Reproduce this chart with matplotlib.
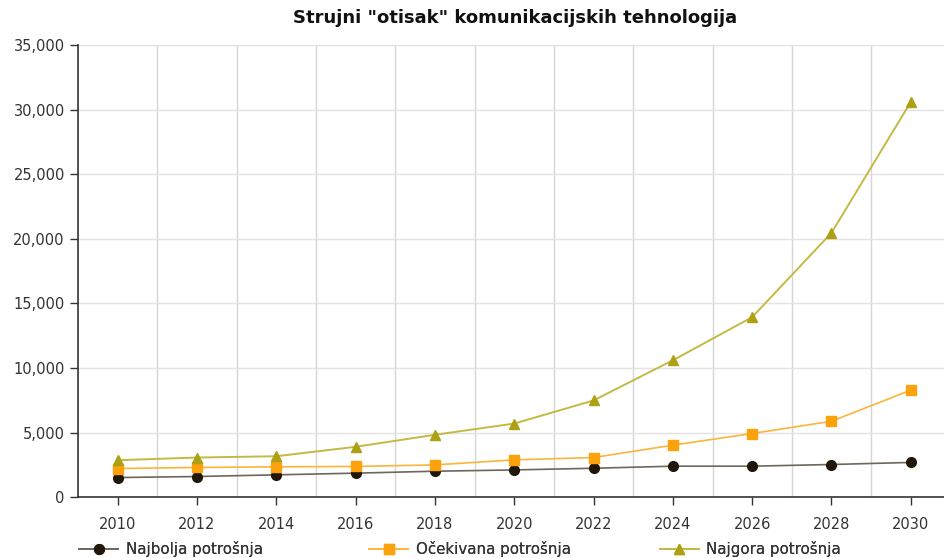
import matplotlib
matplotlib.use("Agg")
import matplotlib.pyplot as plt
from matplotlib.ticker import FuncFormatter

years = [2010, 2012, 2014, 2016, 2018, 2020, 2022, 2024, 2026, 2028, 2030]
najbolja = [1520, 1600, 1730, 1860, 2010, 2110, 2240, 2400, 2400, 2530, 2690]
ocekivana = [2220, 2300, 2350, 2380, 2500, 2890, 3070, 4030, 4930, 5880, 8290]
najgora = [2860, 3070, 3170, 3900, 4830, 5700, 7490, 10600, 13940, 20470, 30610]

series_labels = ["Najbolja potrošnja", "Očekivana potrošnja", "Najgora potrošnja"]
title = 'Strujni "otisak" komunikacijskih tehnologija'

plt.rcParams["font.family"] = ["DejaVu Sans"]

fig = plt.figure(figsize=(9.45, 5.58), dpi=100)
ax = fig.add_axes([0.0825, 0.109, 0.917, 0.81])

lines = []
lines += ax.plot(years, najbolja, color="#6e665a", linewidth=1.2, marker="o",
                 markersize=7, markerfacecolor="#20170a", markeredgecolor="#20170a",
                 label=series_labels[0], zorder=3)
lines += ax.plot(years, ocekivana, color="#fbb53a", linewidth=1.2, marker="s",
                 markersize=7, markerfacecolor="#fba20c", markeredgecolor="#fba20c",
                 label=series_labels[1], zorder=3)
lines += ax.plot(years, najgora, color="#c5b944", linewidth=1.4, marker="^",
                 markersize=7.5, markerfacecolor="#ada012", markeredgecolor="#ada012",
                 label=series_labels[2], zorder=3)

ax.set_xlim(2009, 2030.85)
ax.set_ylim(0, 35000)
ax.set_xticks(years)
ax.set_xticks(range(2011, 2031, 2), minor=True)
ax.set_yticks(range(0, 35001, 5000))
ax.yaxis.set_major_formatter(FuncFormatter(lambda v, _: f"{int(v):,}"))

ax.grid(axis="y", which="major", color="#e3e3e3", linewidth=1.0)
ax.grid(axis="x", which="minor", color="#d6d6d6", linewidth=1.0)
ax.grid(axis="x", which="major", visible=False)
ax.set_axisbelow(True)

for side in ["top", "right"]:
    ax.spines[side].set_visible(False)
for side in ["left", "bottom"]:
    ax.spines[side].set_color("#333333")
    ax.spines[side].set_linewidth(1.2)

ax.tick_params(axis="both", which="major", direction="out", length=6,
               width=1, color="#333333", labelsize=10.5, labelcolor="#333333")
ax.tick_params(axis="x", which="minor", length=0)
ax.tick_params(axis="x", pad=8)

fig.text(0.545, 0.968, title, ha="center", va="center", fontsize=13,
         fontweight="bold", color="#111111")

# one legend per entry so the three items sit evenly spaced like the original
for line, x0 in zip(lines, [0.084, 0.391, 0.698]):
    fig.add_artist(fig.legend(handles=[line], loc="center left",
                              bbox_to_anchor=(x0, 0.016), frameon=False,
                              fontsize=10.8, handlelength=2.6, handletextpad=0.5,
                              borderpad=0, borderaxespad=0,
                              labelcolor="#333333"))

fig.savefig("out.png", dpi=100)
